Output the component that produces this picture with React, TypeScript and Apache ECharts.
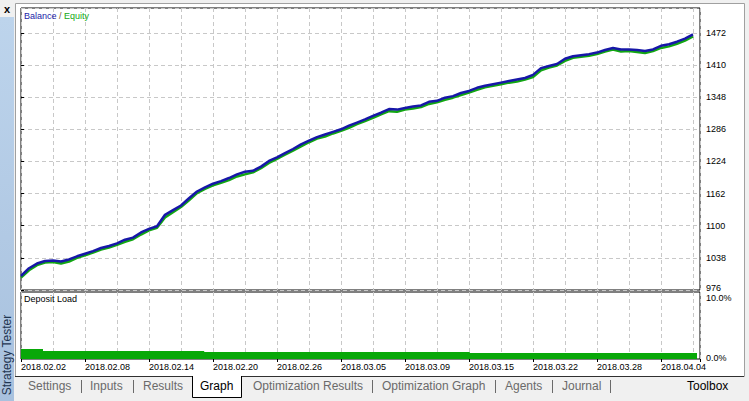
import React, { useEffect, useRef } from "react";
import * as echarts from "echarts";

const dateLabels = [
  "2018.02.02", "2018.02.08", "2018.02.14", "2018.02.20", "2018.02.26", "2018.03.05",
  "2018.03.09", "2018.03.15", "2018.03.22", "2018.03.28", "2018.04.04",
];

// balance sampled at equal steps along the test
const balance = [
  1003, 1018, 1027, 1032, 1033, 1031, 1035, 1041, 1046, 1051,
  1057, 1061, 1066, 1073, 1077, 1087, 1094, 1099, 1121, 1130,
  1139, 1153, 1166, 1174, 1181, 1186, 1192, 1199, 1204, 1206,
  1214, 1225, 1232, 1240, 1248, 1257, 1264, 1271, 1276, 1281,
  1286, 1293, 1299, 1305, 1312, 1318, 1325, 1324, 1327, 1330,
  1332, 1339, 1341, 1347, 1350, 1356, 1360, 1366, 1370, 1373,
  1376, 1379, 1382, 1385, 1391, 1404, 1408, 1412, 1422, 1427,
  1429, 1431, 1434, 1439, 1443, 1440, 1440, 1439, 1437, 1440,
  1447, 1450, 1455, 1461, 1469,
];

const equity = [
  1000, 1014, 1024, 1029, 1030, 1027, 1031, 1038, 1043, 1048,
  1054, 1058, 1063, 1069, 1074, 1083, 1091, 1096, 1116, 1126,
  1136, 1149, 1163, 1171, 1178, 1183, 1188, 1195, 1199, 1203,
  1211, 1221, 1229, 1237, 1245, 1253, 1261, 1268, 1272, 1278,
  1283, 1289, 1296, 1302, 1308, 1315, 1321, 1320, 1324, 1326,
  1329, 1335, 1338, 1343, 1347, 1352, 1357, 1362, 1367, 1370,
  1373, 1376, 1378, 1382, 1387, 1400, 1405, 1409, 1418, 1424,
  1426, 1428, 1431, 1436, 1440, 1436, 1437, 1435, 1433, 1437,
  1443, 1446, 1451, 1457, 1465,
];

// deposit load (%) segments: start position (sample index) and level
const loadX = [0, 2.75, 22.9, 56.1, 84.5];
const loadPct = [1.5, 1.2, 1.05, 0.9, 0.9];

const balanceMin = 976;
const balanceMax = 1520;
const balanceStep = 62;
const xMax = 84.875;

const FONT = "Liberation Sans";
const dash = { color: "#c8c8c8", type: [4, 3] as any, width: 1 };

export default function App() {
  const ref = useRef<HTMLDivElement>(null);
  useEffect(() => {
    if (!ref.current) return;
    const chart = echarts.init(ref.current, undefined, { renderer: "svg" });
    const tabs = [
      { t: "Settings", x: 28, c: "#6a6a6a" },
      { t: "Inputs", x: 90, c: "#6a6a6a" },
      { t: "Results", x: 143, c: "#6a6a6a" },
      { t: "Graph", x: 200, c: "#000" },
      { t: "Optimization Results", x: 253, c: "#6a6a6a" },
      { t: "Optimization Graph", x: 382, c: "#6a6a6a" },
      { t: "Agents", x: 505, c: "#6a6a6a" },
      { t: "Journal", x: 562, c: "#6a6a6a" },
      { t: "Toolbox", x: 687, c: "#000" },
    ];
    const seps = [81, 133, 372, 495, 552, 610];
    const graphic: any[] = [
      { type: "rect", z: -10, shape: { x: 15.5, y: 3.5, width: 729, height: 373 }, style: { fill: "#fff", stroke: "#a0a0a0", lineWidth: 1 } },
      { type: "rect", z: -10, shape: { x: 0, y: 17, width: 14, height: 384 }, style: { fill: new echarts.graphic.LinearGradient(0, 0, 0, 1, [{ offset: 0, color: "#bdd4ec" }, { offset: 1, color: "#a8c1de" }]) } },
      { type: "text", z: 50, x: 7, y: 9, style: { text: "x", font: `bold 11px ${FONT}`, fill: "#000", align: "center", verticalAlign: "middle" } },
      { type: "text", z: 50, x: 7, y: 355, rotation: Math.PI / 2, style: { text: "Strategy Tester", font: `12px ${FONT}`, fill: "#1f3550", align: "center", verticalAlign: "middle" } },
      { type: "line", z: 50, shape: { x1: 15, y1: 376.5, x2: 744, y2: 376.5 }, style: { stroke: "#303030", lineWidth: 1 } },
      { type: "rect", z: 51, shape: { x: 192, y: 376, width: 50, height: 21 }, style: { fill: "#fff" } },
      { type: "polyline", z: 52, shape: { points: [[192.5, 376], [192.5, 397.5], [241.5, 397.5], [241.5, 376]] }, style: { stroke: "#000", fill: "none", lineWidth: 1 } },
      { type: "text", z: 60, x: 24, y: 16, style: { text: "{b|Balance}{s| / }{e|Equity}", font: `9px ${FONT}`, verticalAlign: "middle", rich: { b: { fill: "#1a1aa8", font: `9px ${FONT}` }, s: { fill: "#7a5a30", font: `9px ${FONT}` }, e: { fill: "#13a813", font: `9px ${FONT}` } } } },
      { type: "text", z: 60, x: 24, y: 299, style: { text: "Deposit Load", font: `9px ${FONT}`, fill: "#000", verticalAlign: "middle" } },
    ];
    tabs.forEach((tb) => graphic.push({ type: "text", z: 60, x: tb.x, y: 386, style: { text: tb.t, font: `12px ${FONT}`, fill: tb.c, verticalAlign: "middle" } }));
    seps.forEach((sx) => graphic.push({ type: "line", z: 60, shape: { x1: sx + 0.5, y1: 380, x2: sx + 0.5, y2: 393 }, style: { stroke: "#6a6a6a", lineWidth: 1 } }));

    chart.setOption({
      animation: false,
      backgroundColor: "transparent",
      textStyle: { fontFamily: FONT },
      grid: [
        { left: 21, top: 8, width: 679, height: 282, show: true, borderColor: "#000", borderWidth: 1, backgroundColor: "transparent" },
        { left: 21, top: 292, width: 679, height: 67, show: true, borderColor: "#000", borderWidth: 1, backgroundColor: "transparent" },
      ],
      xAxis: [
        { gridIndex: 0, type: "value", min: 0, max: xMax, interval: 4, axisLine: { show: false }, axisTick: { show: false }, axisLabel: { show: false }, splitLine: { show: true, lineStyle: dash } },
        { gridIndex: 1, type: "value", min: 0, max: xMax, interval: 4, axisLine: { show: false }, axisTick: { show: false }, axisLabel: { show: false }, splitLine: { show: true, lineStyle: dash } },
        {
          gridIndex: 1, type: "value", position: "bottom", min: 0, max: xMax, interval: 8,
          axisLine: { show: false },
          axisTick: { show: true, length: 3, lineStyle: { color: "#000" } },
          splitLine: { show: false },
          axisLabel: {
            show: true, margin: 3, align: "left", color: "#000", fontSize: 9, fontFamily: FONT,
            formatter: (v: number) => (v % 8 === 0 && v / 8 < dateLabels.length ? dateLabels[v / 8] : ""),
          },
        },
      ],
      yAxis: [
        {
          gridIndex: 0, type: "value", position: "right", min: balanceMin, max: balanceMax, interval: balanceStep,
          axisLine: { show: false },
          axisTick: { show: true, length: 3, lineStyle: { color: "#000" } },
          axisLabel: {
            show: true, margin: 6, color: "#000", fontSize: 9, fontFamily: FONT, showMaxLabel: false,
            formatter: (v: number) => (v === balanceMin ? "{m|" + String(v) + "}" : String(v)),
            rich: { m: { padding: [0, 0, 4, 0], fontSize: 9, fontFamily: FONT, color: "#000" } },
          },
          splitLine: { show: true, lineStyle: dash },
        },
        {
          gridIndex: 1, type: "value", position: "right", min: 0, max: 10, interval: 10,
          axisLine: { show: false }, axisTick: { show: false }, splitLine: { show: false },
          axisLabel: {
            show: true, margin: 6, color: "#000", fontSize: 9, fontFamily: FONT,
            formatter: (v: number) => (v >= 10 ? "{t|" + v.toFixed(1) + "%}" : "{b|" + v.toFixed(1) + "%}"),
            rich: { t: { padding: [12, 0, 0, 0], fontSize: 9, fontFamily: FONT, color: "#000" }, b: { padding: [0, 0, 2, 0], fontSize: 9, fontFamily: FONT, color: "#000" } },
          },
        },
      ],
      series: [
        { type: "line", name: "Equity", xAxisIndex: 0, yAxisIndex: 0, data: equity.map((v, i) => [i, v]), symbol: "none", lineStyle: { color: "#12a612", width: 2.5 }, z: 3 },
        { type: "line", name: "Balance", xAxisIndex: 0, yAxisIndex: 0, data: balance.map((v, i) => [i, v]), symbol: "none", lineStyle: { color: "#1717a8", width: 2.5 }, z: 4 },
        { type: "line", name: "Deposit Load", xAxisIndex: 1, yAxisIndex: 1, step: "end", data: loadX.map((x, i) => [x, loadPct[i]]), symbol: "none", lineStyle: { width: 0 }, areaStyle: { color: "#08a808", opacity: 1 }, z: 3 },
      ],
      graphic,
    });
    return () => chart.dispose();
  }, []);
  return (
    <div
      ref={ref}
      style={{ position: "absolute", left: 0, top: 0, width: 749, height: 401, background: "#f0f0f0" }}
    />
  );
}
